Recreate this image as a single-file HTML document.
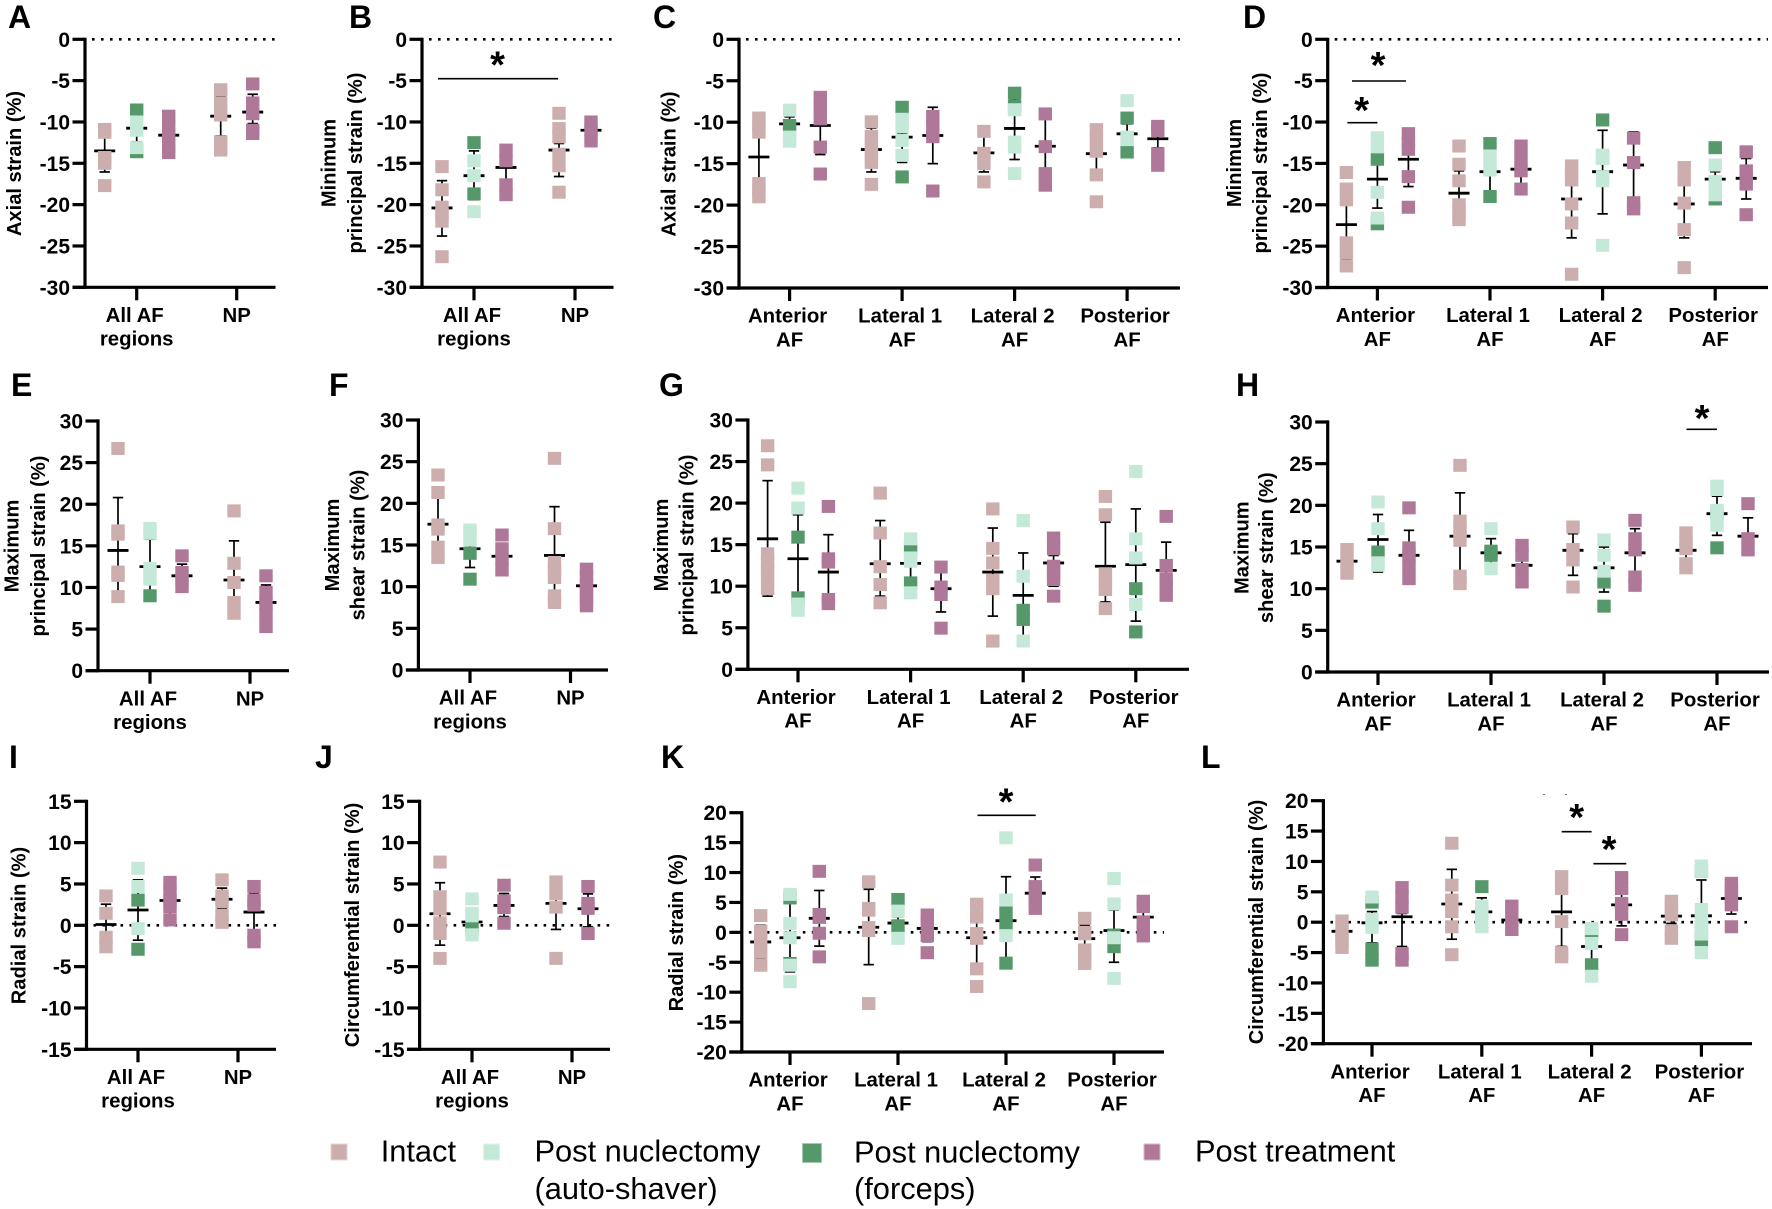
<!DOCTYPE html>
<html lang="en">
<head>
<meta charset="utf-8">
<title>Strain by region and treatment</title>
<style>
html,body{margin:0;padding:0;background:#fff}
svg{display:block}
text{font-family:"Liberation Sans",Arial,sans-serif;fill:#000}
.letter{font-size:32px;font-weight:700}
.title{font-size:20.1px;font-weight:700;text-anchor:middle}
.tick{font-size:21px;font-weight:700;text-anchor:end}
.cat{font-size:20.4px;font-weight:700;text-anchor:middle}
.star{font-size:38px;font-weight:700;text-anchor:middle}
.leg{font-size:30.8px}
</style>
</head>
<body>
<svg id="figure" width="1772" height="1209" viewBox="0 0 1772 1209" xmlns="http://www.w3.org/2000/svg">
<rect width="1772" height="1209" fill="#fff"/>
<g>
<text class="letter" x="8" y="28">A</text>
<text class="letter" x="349" y="28">B</text>
<text class="letter" x="653" y="28">C</text>
<text class="letter" x="1243" y="28">D</text>
<text class="letter" x="11" y="396">E</text>
<text class="letter" x="329" y="396">F</text>
<text class="letter" x="659" y="396">G</text>
<text class="letter" x="1236" y="396">H</text>
<text class="letter" x="9" y="768">I</text>
<text class="letter" x="315" y="768">J</text>
<text class="letter" x="661" y="768">K</text>
<text class="letter" x="1201" y="768">L</text>
</g>
<g>
<text class="title" transform="translate(21,163.5) rotate(-90)">Axial strain (%)</text>
<text class="title" transform="translate(335.5,163) rotate(-90)">Minimum</text>
<text class="title" transform="translate(362,163) rotate(-90)">principal strain (%)</text>
<text class="title" transform="translate(675.7,164) rotate(-90)">Axial strain (%)</text>
<text class="title" transform="translate(1241,163) rotate(-90)">Minimum</text>
<text class="title" transform="translate(1266.8,163) rotate(-90)">principal strain (%)</text>
<text class="title" transform="translate(18.4,546) rotate(-90)">Maximum</text>
<text class="title" transform="translate(45,546) rotate(-90)">principal strain (%)</text>
<text class="title" transform="translate(338.8,545) rotate(-90)">Maximum</text>
<text class="title" transform="translate(364.5,545) rotate(-90)">shear strain (%)</text>
<text class="title" transform="translate(667.9,545) rotate(-90)">Maximum</text>
<text class="title" transform="translate(693.6,545) rotate(-90)">principal strain (%)</text>
<text class="title" transform="translate(1248.5,547.7) rotate(-90)">Maximum</text>
<text class="title" transform="translate(1273,547.7) rotate(-90)">shear strain (%)</text>
<text class="title" transform="translate(25.3,925.5) rotate(-90)">Radial strain (%)</text>
<text class="title" transform="translate(359,925) rotate(-90)">Circumferential strain (%)</text>
<text class="title" transform="translate(682.9,932.7) rotate(-90)">Radial strain (%)</text>
<text class="title" transform="translate(1262.8,922) rotate(-90)">Circumferential strain (%)</text>
</g>
<g id="charts"></g>
<g stroke="#000" stroke-width="1.6">
<line x1="438" x2="558" y1="78.7" y2="78.7"/>
<text class="star" x="497.5" y="77.5" stroke="none">*</text>
<line x1="1352" x2="1406" y1="81" y2="81"/>
<text class="star" x="1378" y="78" stroke="none">*</text>
<line x1="1347.4" x2="1377.4" y1="122.7" y2="122.7"/>
<text class="star" x="1361.7" y="123" stroke="none">*</text>
<line x1="1686.5" x2="1717" y1="429.3" y2="429.3"/>
<text class="star" x="1702" y="431" stroke="none">*</text>
<line x1="977.5" x2="1035.7" y1="815.3" y2="815.3"/>
<text class="star" x="1006" y="814.5" stroke="none">*</text>
<line x1="1561.7" x2="1591.6" y1="831.7" y2="831.7"/>
<text class="star" x="1576.6" y="830" stroke="none">*</text>
<line x1="1593.4" x2="1626.3" y1="863.7" y2="863.7"/>
<text class="star" x="1609" y="862" stroke="none">*</text>
<rect x="1543" y="794" width="2" height="1" fill="#777" stroke="none"/>
<rect x="1565" y="794" width="2" height="1" fill="#777" stroke="none"/>
</g>
<g>
<rect x="331" y="1144" width="16" height="16" fill="#cdaeae" stroke="#e4d3d3"/>
<text class="leg" x="380.7" y="1161.7">Intact</text>
<rect x="483.5" y="1144" width="16" height="16" fill="#c5e9d9" stroke="#dff3ea"/>
<text class="leg" x="534.5" y="1161.7">Post nuclectomy</text>
<text class="leg" x="534.5" y="1199">(auto-shaver)</text>
<rect x="802.5" y="1143.5" width="19" height="19" fill="#55996a" stroke="#a4cbb0"/>
<text class="leg" x="854" y="1162.7">Post nuclectomy</text>
<text class="leg" x="854" y="1199">(forceps)</text>
<rect x="1144" y="1144" width="16" height="16" fill="#b07898" stroke="#d6b6c8"/>
<text class="leg" x="1195" y="1161.7">Post treatment</text>
</g>
</svg>
<script>
// Shared axis labels
const ticksNegative = [0,-5,-10,-15,-20,-25,-30];
const ticksPositive = [0,5,10,15,20,25,30];
const ticksFifteen = [-15,-10,-5,0,5,10,15];
const ticksTwenty = [-20,-15,-10,-5,0,5,10,15,20];
const catsOverall = [["All AF","regions"],["NP"]];
const catsRegions = [["Anterior","AF"],["Lateral 1","AF"],["Lateral 2","AF"],["Posterior","AF"]];

// Panel A
const A_intact = [[-10.9,-11.25,-14.3,-15,-17.7],[-6.1,-7.7,-9.15,-12.4,-13.4]];
const A_auto = [[-10,-11,-13.1],[]];
const A_forceps = [[-8.55,-13.6],[]];
const A_treatment = [[-9.3,-10.4,-11.6,-13,-13.7],[-5.4,-7.7,-9,-11,-11.4]];
const A_mean = [[-13.5,-10.75,-11.6],[-9.3,-8.8]];
const A_hi = [[-11.5,-9,-10],[-6.9,-6.65]];
const A_lo = [[-16.05,-12.4,-13.2],[-11.7,-10.2]];

// Panel B
const B_intact = [[-15.4,-18.2,-20.3,-21.2,-22,-26.3],[-8.95,-10.8,-11.8,-13.9,-15.3,-18.5]];
const B_auto = [[-14.7,-16.5,-20.85],[]];
const B_forceps = [[-12.5,-18.7],[]];
const B_treatment = [[-13.4,-14.7,-17.6,-18.8],[-10,-11,-12.3]];
const B_mean = [[-20.4,-16.5,-15.5],[-13.4,-11]];
const B_hi = [[-17.1,-13.5,-13.2],[-12.6,-10.2]];
const B_lo = [[-23.8,-19.4,-17.8],[-16.6,-11.8]];

// Panel C
const C_intact = [[-9.5,-10.4,-11.2,-17.4,-18.2,-19],[-9.95,-11.7,-13,-14,-14.85,-17.5],[-11.1,-13.75,-15,-17.2],[-10.9,-12.1,-13.5,-16.35,-19.6]];
const C_auto = [[-8.55,-11.8,-12.3],[-9.65,-10.55,-12.2,-14],[-8.5,-12.4,-13,-16.2],[-7.4,-11.8,-12.1]];
const C_forceps = [[-10.4],[-8.2,-16.6],[-6.5,-8.1],[-9.5,-13.6]];
const C_treatment = [[-7,-8.15,-9.6,-13,-16.25],[-9.3,-10.5,-11.75,-18.3],[-9,-12.95,-16.2,-17.6],[-10.5,-11,-13.8,-15.2]];
const C_mean = [[-14.2,-10.2,-10.4],[-13.3,-11.8,-11.6],[-13.7,-10.75,-12.9],[-13.8,-11.4,-12]];
const C_hi = [[-10.5,-9.35,-7],[-10.7,-11.3,-8.2],[-11.7,-7.2,-9.5],[-11.5,-10.2,-11.5]];
const C_lo = [[-18,-11,-13.9],[-16,-14.85,-15],[-16,-14.5,-16.5],[-16,-12.5,-13.1]];

// Panel D
const D_intact = [[-16.1,-18.1,-19.4,-24.6,-25.8,-27.4],[-12.9,-15.1,-17.1,-20,-20.9,-21.8],[-15.3,-16.1,-17,-19.9,-22.2,-28.4],[-15.5,-17,-19.8,-23,-27.6]];
const D_auto = [[-11.9,-13,-18.5,-21.6],[-14.1,-15,-15.8],[-14,-14.4,-16.6,-17.1,-24.9],[-15.2,-17.2,-18,-18.8]];
const D_forceps = [[-14.5,-22.3],[-12.6,-19],[-9.75,-14.3],[-13.1,-19.3]];
const D_treatment = [[-11.4,-12.4,-13.3,-16.6,-20.3],[-12.9,-14.4,-15.9,-18.1],[-11.95,-14.9,-19.75,-20.5],[-13.6,-15.9,-16.7,-17.5,-21.2]];
const D_mean = [[-22.4,-16.9,-14.5],[-18.6,-16,-15.7],[-19.3,-16,-15.2],[-19.9,-16.9,-16.8]];
const D_hi = [[-18.3,-13.7,-11],[-15.9,-13.4,-13.5],[-15.5,-11,-11.2],[-16,-16,-14.4]];
const D_lo = [[-26.5,-20.4,-17.8],[-21.3,-18.5,-17.6],[-24,-21.1,-20],[-24,-19,-19.3]];

// Panel E
const E_intact = [[26.7,16.8,16.4,11.85,11.45,8.9],[19.2,12.9,10.6,8.2,6.9]];
const E_auto = [[17.1,16.5,12.3,11],[]];
const E_forceps = [[9],[]];
const E_treatment = [[13.8,11.8,11,10.1],[11.4,9.4,8.1,6.8,5.3]];
const E_mean = [[14.45,12.5,11.4],[10.9,8.2]];
const E_hi = [[20.8,15.8,12.8],[15.6,10.3]];
const E_lo = [[8.7,9.3,10],[6.25,6.1]];

// Panel F
const F_intact = [[23.4,21.3,17.4,16.9,14.75,13.5],[25.4,16.96,12.9,12,11.1,8.9,8.1]];
const F_auto = [[16.8,15.6],[]];
const F_forceps = [[14,10.9],[]];
const F_treatment = [[16.2,14.55,13.3,12],[12.1,11.2,10.2,9.3,8.5,7.7]];
const F_mean = [[17.5,14.55,13.65],[13.75,10.1]];
const F_hi = [[20.7,14.9,15.2],[19.6,12]];
const F_lo = [[14.3,12.3,12.2],[8,8.2]];

// Panel G
const G_intact = [[26.9,24.6,13.9,12.9,11.9,10.8,9.7],[21.2,16.4,12.35,10.2,8],[19.3,14.55,12.8,10.7,9.7,3.4],[20.8,18.6,11.5,10.5,9.6,7.3]];
const G_auto = [[21.8,19.4,7.85,7.1],[15.7,13.4,13,9.2],[17.9,11.2,3.4],[23.8,15.7,13.4,7.8]];
const G_forceps = [[15.9,8.6],[14.5,10.4],[7.1,6],[9.7,4.5]];
const G_treatment = [[19.6,13.3,12.9,8.4,7.9],[12.3,9.9,9,4.95],[15.8,14.5,12.4,11.6,10.8,8.8],[18.4,12.5,10.9,9.9,8.9]];
const G_mean = [[15.7,13.3,11.7],[12.7,12.75,9.7],[11.7,8.9,12.8],[12.4,12.6,11.9]];
const G_hi = [[22.7,18.6,16.2],[17.9,14,11.7],[17,14,13.7],[17.7,19.3,15.3]];
const G_lo = [[8.8,8.7,8.2],[8.8,10.5,6.9],[6.4,4,10],[8.1,5.8,8.5]];

// Panel H
const H_intact = [[14.7,13.2,11.85],[24.8,18.1,17,15.8,11.5,10.6],[17.4,14.7,13.45,10.2],[16.7,15.7,14.8,13,12.5]];
const H_auto = [[20.4,17.2,13.1,12.8],[17.2,12.4],[15.85,14,12.1],[22.3,21.9,19.4,18.5,17.6]];
const H_forceps = [[14.4],[14.5,14],[10.8,7.9],[19,14.9]];
const H_treatment = [[19.7,14.9,14,12.6,11.2],[15.2,14,12.3,10.8],[18.2,16,14.65,11.4,10.4],[20.2,16,14.65]];
const H_mean = [[13.3,15.9,14],[16.3,14.3,12.8],[14.6,12.5,14.3],[14.6,19,16.3]];
const H_hi = [[14.5,18.9,17],[21.5,16,13.4],[16.6,15,17.2],[16.5,21.1,18.5]];
const H_lo = [[12.2,12,11],[11,12.6,11],[11.6,9.6,10.5],[12.9,16.4,14.2]];

// Panel I
const I_intact = [[3.55,1.45,-1.45,-2.6],[5.5,3.55,2.85,1.2,0.35]];
const I_auto = [[6.9,4.7,-0.4],[]];
const I_forceps = [[3.05,-2.9],[]];
const I_treatment = [[5.2,3.9,3,2.25,0.65],[4.7,3.05,2.45,-1.2,-2]];
const I_mean = [[0.1,1.85,3],[3.15,1.6]];
const I_hi = [[2.55,5.5,5],[4.5,3.95]];
const I_lo = [[-2,-1.8,1],[2,-0.7]];

// Panel J
const J_intact = [[7.65,3.45,2,0.3,-1,-4],[5.25,3.85,2.2,-4]];
const J_auto = [[3.2,1.45,1.15,-1.15],[]];
const J_forceps = [[-0.3],[]];
const J_treatment = [[4.85,2.95,2.15,0.25],[4.7,2.65,2.05,-1]];
const J_mean = [[1.4,0.4,2.4],[2.65,2]];
const J_hi = [[5.15,2,3.85],[5,3.8]];
const J_lo = [[-2.4,-1.3,1.05],[-0.5,-0.2]];

// Panel K
const K_intact = [[2.8,0.2,-1.3,-3.3,-5.5],[8.45,4,3.7,0.8,0.3,-11.9],[4.7,2.55,-0.2,-1,-6.1,-9.05],[2.35,0,-0.25,-2.95,-4,-5.2]];
const K_auto = [[6.35,1.5,-0.9,-5.5,-8.25],[3.55,-1],[15.8,5.4,-0.55],[9,4.75,-0.9,-7.7]];
const K_forceps = [[5.75,-5.2],[5.5,1.1],[3.3,1.2,-5.15],[-0.45,-2.4]];
const K_treatment = [[10.2,3,2.5,-0.15,-4.1],[2.9,1.5,-0.55,-3.4],[11.25,7.65,6.5,5.4,4],[5.2,4.3,1.75,0.6,-0.6]];
const K_mean = [[-1.6,-0.9,2.35],[0.85,1.55,0.65],[-0.9,1.95,6.55],[-1.05,0.3,2.55]];
const K_hi = [[1.2,4.9,7],[7.2,2.6,3.5],[3.8,9.3,9.25],[1.2,3.75,3.5]];
const K_lo = [[-4.3,-6.6,-2.3],[-5.4,0.5,-1.55],[-5.5,-5,3.8],[-2,-5,0]];

// Panel L
const L_intact = [[0.2,-1.85,-3,-4.15],[13,6.1,3.65,1.75,-0.75,-5.35],[7.5,5.55,0.1,-5,-5.7],[3.45,2.3,1.2,-1.45,-2.65]];
const L_auto = [[4.15,0.45,-0.85],[2.65,1.5,0.35,-0.75],[-1.05,-3.5,-8.9],[9.25,8.4,2.1,0.45,-0.75,-1.95,-5]];
const L_forceps = [[3.3,-4.4,-6.25],[5.85,1.55],[-1.6,-7],[8.4,-1.1,-2.9]];
const L_treatment = [[5.7,4,2.45,-5.15,-6.25],[2.65,0.65,-1.2],[7.35,5.55,3.1,1.3,-2.05],[6.4,5.2,4,2.85,-0.75]];
const L_mean = [[-1.5,-0.1,0.9],[3,1.7,0.35],[1.7,-4,2.85],[1,1.05,3.9]];
const L_hi = [[0.5,1.75,1.45],[8.7,4,2.5],[4.7,-2,4.65],[2.5,6.95,7]];
const L_lo = [[-3,-3.4,-4],[-2.8,0,-1],[-4,-7.4,-0.6],[-0.2,-3.8,1.35]];

const NS = 'http://www.w3.org/2000/svg';
const root = document.getElementById('charts');
const COLORS = {intact:'#cdaeae',auto:'#c5e9d9',forceps:'#55996a',treatment:'#b07898'};

function mk(parent, tag, attrs, text){
  const el = document.createElementNS(NS, tag);
  for (const k in attrs) el.setAttribute(k, attrs[k]);
  if (text !== undefined) el.textContent = text;
  parent.appendChild(el);
  return el;
}
function seg(parent, x1, y1, x2, y2, w, name, dash){
  const a = {x1:x1, y1:y1, x2:x2, y2:y2, stroke:'#000', 'stroke-width':w};
  if (dash) a['stroke-dasharray'] = dash;
  const el = mk(parent, 'line', a);
  
  
  return el;
}

function drawPanel(id, box, ticks, cats, intact, auto, forceps, treatment, mean, hi, lo){
  const panel = mk(root, 'g', {});
  
  
  const vMin = Math.min.apply(null, ticks), vMax = Math.max.apply(null, ticks);
  const yScale = v => box.bottom - (v - vMin) / (vMax - vMin) * (box.bottom - box.top);
  const groupX = i => box.g0 + i * box.gs;
  const colX = (g, c, n) => groupX(g) + (n === 2 ? (c === 0 ? -box.col / 2 : box.col / 2) : (c - 1) * box.col);
  // zero line
  if (vMin < 0 && vMax >= 0) {
    seg(panel, box.x0 + 7, yScale(0), box.xEnd, yScale(0), 2.6, 'zero-reference-line', '2.6 6.4');
  }
  // axes
  seg(panel, box.x0, box.top - 1.6, box.x0, box.bottom + 1.6, 3.2, 'y-axis-line');
  seg(panel, box.x0 - 12.5, box.bottom, box.xEnd, box.bottom, 3.2, 'x-axis-line');
  ticks.forEach(t => {
    const y = yScale(t);
    seg(panel, box.x0 - 12.5, y, box.x0, y, 3.2, 'y-tick');
    const lab = mk(panel, 'text', {class:'tick', x:box.x0 - 15, y:y + 7.5}, String(t));
    
    
  });
  cats.forEach((lines, g) => {
    const x = groupX(g);
    seg(panel, x, box.bottom, x, box.bottom + 13, 3.2, 'x-tick');
    lines.forEach((line, k) => {
      const shift = (k === 0 && lines.length > 1) ? 2 : 0;
      const lab = mk(panel, 'text', {class:'cat', x:x - shift, y:box.bottom + 34.7 + k * 23.6}, line);
      
      
    });
  });
  // mean and SD whiskers
  mean.forEach((arr, g) => {
    arr.forEach((m, c) => {
      const x = colX(g, c, arr.length);
      const yh = yScale(hi[g][c]), yl = yScale(lo[g][c]), ym = yScale(m);
      seg(panel, x, yh, x, yl, 1.7, 'error-bar');
      seg(panel, x - 5.2, yh, x + 5.2, yh, 1.7, 'error-cap-upper');
      seg(panel, x - 5.2, yl, x + 5.2, yl, 1.7, 'error-cap-lower');
      seg(panel, x - 10.5, ym, x + 10.5, ym, 2.8, 'mean-line');
    });
  });
  // points, forceps beneath auto-shaver
  const drawSeries = (data, colorKey, colIndexOf, name) => {
    data.forEach((vals, g) => {
      const n = mean[g].length;
      vals.forEach(v => {
        const x = colX(g, colIndexOf(n), n);
        const el = mk(panel, 'rect', {x:x - 6.7, y:yScale(v) - 6.5, width:13.4, height:13, fill:COLORS[colorKey]});
        
        
      });
    });
  };
  drawSeries(forceps, 'forceps', () => 1, 'point-post-nuclectomy-forceps');
  drawSeries(auto, 'auto', () => 1, 'point-post-nuclectomy-auto-shaver');
  drawSeries(intact, 'intact', () => 0, 'point-intact');
  drawSeries(treatment, 'treatment', n => n - 1, 'point-post-treatment');
}

drawPanel('a',{x0:85,xEnd:275.5,top:39.3,bottom:287.3,g0:136.7,gs:100,col:32},ticksNegative,catsOverall,A_intact,A_auto,A_forceps,A_treatment,A_mean,A_hi,A_lo);
drawPanel('b',{x0:422,xEnd:613.5,top:39.3,bottom:287.3,g0:474,gs:101,col:32},ticksNegative,catsOverall,B_intact,B_auto,B_forceps,B_treatment,B_mean,B_hi,B_lo);
drawPanel('c',{x0:739,xEnd:1180,top:39.3,bottom:288,g0:789.6,gs:112.5,col:30.7},ticksNegative,catsRegions,C_intact,C_auto,C_forceps,C_treatment,C_mean,C_hi,C_lo);
drawPanel('d',{x0:1327.7,xEnd:1768,top:39.3,bottom:287.5,g0:1377.4,gs:112.6,col:31},ticksNegative,catsRegions,D_intact,D_auto,D_forceps,D_treatment,D_mean,D_hi,D_lo);
drawPanel('e',{x0:98,xEnd:289,top:421,bottom:670.7,g0:150,gs:100,col:32},ticksPositive,catsOverall,E_intact,E_auto,E_forceps,E_treatment,E_mean,E_hi,E_lo);
drawPanel('f',{x0:418.4,xEnd:608,top:420,bottom:670,g0:470,gs:100.5,col:32},ticksPositive,catsOverall,F_intact,F_auto,F_forceps,F_treatment,F_mean,F_hi,F_lo);
drawPanel('g',{x0:747.9,xEnd:1189,top:420,bottom:669.3,g0:798,gs:112.6,col:30.4},ticksPositive,catsRegions,G_intact,G_auto,G_forceps,G_treatment,G_mean,G_hi,G_lo);
drawPanel('h',{x0:1327.7,xEnd:1769,top:422,bottom:672,g0:1378,gs:113,col:31},ticksPositive,catsRegions,H_intact,H_auto,H_forceps,H_treatment,H_mean,H_hi,H_lo);
drawPanel('i',{x0:86.5,xEnd:276,top:801.3,bottom:1049.3,g0:138,gs:100,col:32},ticksFifteen,catsOverall,I_intact,I_auto,I_forceps,I_treatment,I_mean,I_hi,I_lo);
drawPanel('j',{x0:419.6,xEnd:610,top:801.3,bottom:1049.3,g0:472,gs:100,col:32},ticksFifteen,catsOverall,J_intact,J_auto,J_forceps,J_treatment,J_mean,J_hi,J_lo);
drawPanel('k',{x0:741.8,xEnd:1164,top:812.7,bottom:1052,g0:790,gs:108,col:29.3},ticksTwenty,catsRegions,K_intact,K_auto,K_forceps,K_treatment,K_mean,K_hi,K_lo);
drawPanel('l',{x0:1323.4,xEnd:1752,top:800.7,bottom:1043.7,g0:1372,gs:109.8,col:30},ticksTwenty,catsRegions,L_intact,L_auto,L_forceps,L_treatment,L_mean,L_hi,L_lo);
</script>
</body>
</html>
